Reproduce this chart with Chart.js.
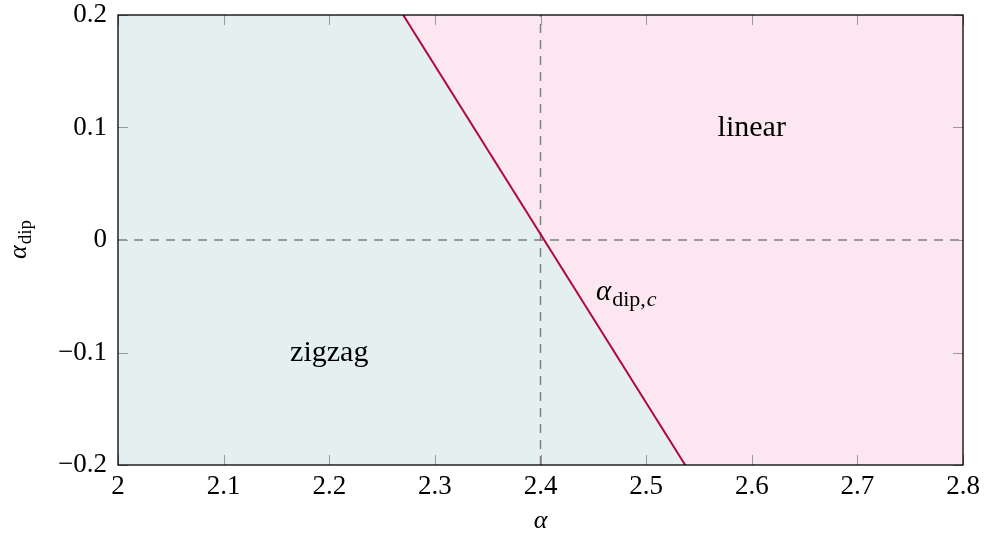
<!DOCTYPE html>
<html>
<head>
<meta charset="utf-8">
<script src="https://cdn.jsdelivr.net/npm/chart.js@4"></script>
<style>
    html, body { margin: 0; padding: 0; background: #fff; }
    #wrap { width: 985px; height: 539px; }
</style>
</head>
<body>
<div id="wrap"><canvas id="phase-chart"></canvas></div>
<script>
// axis ranges and ticks
const xTicks = [2, 2.1, 2.2, 2.3, 2.4, 2.5, 2.6, 2.7, 2.8];
const yTicks = [-0.2, -0.1, 0, 0.1, 0.2];
const yTickLabels = ["\u22120.2", "\u22120.1", "0", "0.1", "0.2"];
const xTickLabels = ["2", "2.1", "2.2", "2.3", "2.4", "2.5", "2.6", "2.7", "2.8"];

// critical line alpha_dip,c (boundary between phases)
const boundaryX = [2.27, 2.537];
const boundaryY = [0.2, -0.2];

// outline of the phase boundary across the full range, used for the fills
const regionX = [2, 2.27, 2.537, 2.8];
const regionY = [0.2, 0.2, -0.2, -0.2];

// dashed reference lines
const alphaRef = 2.4;
const dipRef = 0;

const regionLabels = [
    { text: "zigzag", x: 2.2, y: -0.1 },
    { text: "linear", x: 2.6, y: 0.1 },
];

const FONT = "'Liberation Serif', 'DejaVu Serif', serif";

(function () {
    function pts(xs, ys) {
        return xs.map((x, i) => ({ x: x, y: ys[i] }));
    }

    const decorations = {
        id: 'decorations',
        afterDraw(chart) {
            const ctx = chart.ctx;
            const xs = chart.scales.x, ys = chart.scales.y;
            const a = chart.chartArea;
            ctx.save();
            // inward tick marks on all four sides
            ctx.strokeStyle = '#9a9a9a';
            ctx.lineWidth = 1;
            xTicks.forEach(v => {
                const px = Math.round(xs.getPixelForValue(v)) + 0.5;
                ctx.beginPath();
                ctx.moveTo(px, a.bottom); ctx.lineTo(px, a.bottom - 10);
                ctx.moveTo(px, a.top); ctx.lineTo(px, a.top + 10);
                ctx.stroke();
            });
            yTicks.forEach(v => {
                const py = Math.round(ys.getPixelForValue(v)) + 0.5;
                ctx.beginPath();
                ctx.moveTo(a.left, py); ctx.lineTo(a.left + 10, py);
                ctx.moveTo(a.right, py); ctx.lineTo(a.right - 10, py);
                ctx.stroke();
            });
            // frame
            ctx.strokeStyle = '#000';
            ctx.lineWidth = 1.3;
            ctx.strokeRect(a.left, a.top, a.right - a.left, a.bottom - a.top);

            // region labels
            ctx.fillStyle = '#000';
            ctx.textAlign = 'center';
            ctx.textBaseline = 'alphabetic';
            ctx.font = '30px ' + FONT;
            regionLabels.forEach(l => {
                ctx.fillText(l.text, xs.getPixelForValue(l.x), ys.getPixelForValue(l.y) + 8);
            });

            // alpha_dip,c label
            let lx = xs.getPixelForValue(2.4525), ly = ys.getPixelForValue(-0.05) + 4;
            ctx.textAlign = 'left';
            ctx.font = 'italic 29px ' + FONT;
            ctx.fillText('\u03b1', lx, ly);
            let w = ctx.measureText('\u03b1').width;
            ctx.font = '22px ' + FONT;
            ctx.fillText('dip,', lx + w + 1, ly + 6);
            let w2 = ctx.measureText('dip,').width;
            ctx.font = 'italic 22px ' + FONT;
            ctx.fillText('c', lx + w + 2 + w2, ly + 6);

            // x axis title
            ctx.font = 'italic 26px ' + FONT;
            ctx.textAlign = 'center';
            ctx.fillText('\u03b1', (a.left + a.right) / 2, 528);

            // y axis title, rotated
            ctx.translate(26, ys.getPixelForValue(0));
            ctx.rotate(-Math.PI / 2);
            ctx.textAlign = 'left';
            ctx.font = 'italic 26px ' + FONT;
            const aw = ctx.measureText('\u03b1').width;
            ctx.font = '19px ' + FONT;
            const dw = ctx.measureText('dip').width;
            const start = -(aw + dw) / 2;
            ctx.font = 'italic 26px ' + FONT;
            ctx.fillText('\u03b1', start, 0);
            ctx.font = '19px ' + FONT;
            ctx.fillText('dip', start + aw + 1, 5);
            ctx.restore();
        }
    };

    function GenerateChart() {
        new Chart(document.getElementById('phase-chart'), {
            type: 'scatter',
            data: {
                datasets: [
                    {
                        label: 'zigzag',
                        type: 'line',
                        data: pts(regionX, regionY),
                        borderWidth: 0,
                        pointRadius: 0,
                        backgroundColor: '#e4f0f0',
                        fill: 'start',
                        order: 5,
                    }, {
                        label: 'linear',
                        type: 'line',
                        data: pts(regionX, regionY),
                        borderWidth: 0,
                        pointRadius: 0,
                        backgroundColor: '#fce7f0',
                        fill: 'end',
                        order: 5,
                    }, {
                        label: 'alpha ref',
                        type: 'line',
                        data: [{ x: alphaRef, y: -0.2 }, { x: alphaRef, y: 0.2 }],
                        borderColor: '#7f7f7f',
                        borderWidth: 1.5,
                        borderDash: [9, 7],
                        pointRadius: 0,
                        fill: false,
                        order: 3,
                    }, {
                        label: 'dip ref',
                        type: 'line',
                        data: [{ x: 2, y: dipRef }, { x: 2.8, y: dipRef }],
                        borderColor: '#7f7f7f',
                        borderWidth: 1.5,
                        borderDash: [9, 7],
                        pointRadius: 0,
                        fill: false,
                        order: 3,
                    }, {
                        label: 'boundary',
                        type: 'line',
                        data: pts(boundaryX, boundaryY),
                        borderColor: '#b0073f',
                        borderWidth: 2,
                        pointRadius: 0,
                        fill: false,
                        order: 1,
                    }
                ]
            },
            options: {
                responsive: true,
                maintainAspectRatio: false,
                animation: false,
                layout: { padding: { top: 15, right: 22, left: 0, bottom: 0 } },
                plugins: {
                    legend: { display: false },
                    tooltip: { enabled: false },
                },
                scales: {
                    x: {
                        type: 'linear',
                        min: 2,
                        max: 2.8,
                        afterBuildTicks: s => { s.ticks = xTicks.map(v => ({ value: v })); },
                        afterFit: s => { s.height = 74; s.paddingLeft = 0; s.paddingRight = 0; },
                        grid: { display: false, drawTicks: false },
                        border: { display: false },
                        ticks: {
                            color: '#000',
                            padding: 6,
                            maxRotation: 0,
                            font: { family: FONT, size: 27 },
                            callback: v => xTickLabels[xTicks.indexOf(v)] ?? '',
                        },
                    },
                    y: {
                        type: 'linear',
                        min: -0.2,
                        max: 0.2,
                        afterBuildTicks: s => { s.ticks = yTicks.map(v => ({ value: v })); },
                        afterFit: s => { s.width = 118; s.paddingTop = 0; s.paddingBottom = 0; },
                        grid: { display: false, drawTicks: false },
                        border: { display: false },
                        ticks: {
                            color: '#000',
                            padding: 11,
                            font: { family: FONT, size: 27 },
                            callback: v => {
                                const i = yTicks.findIndex(t => Math.abs(t - v) < 1e-9);
                                return i >= 0 ? yTickLabels[i] : '';
                            },
                        },
                    }
                }
            },
            plugins: [decorations]
        });
    }

    window.onload = function () {
        GenerateChart();
    }
})();
</script>
</body>
</html>
